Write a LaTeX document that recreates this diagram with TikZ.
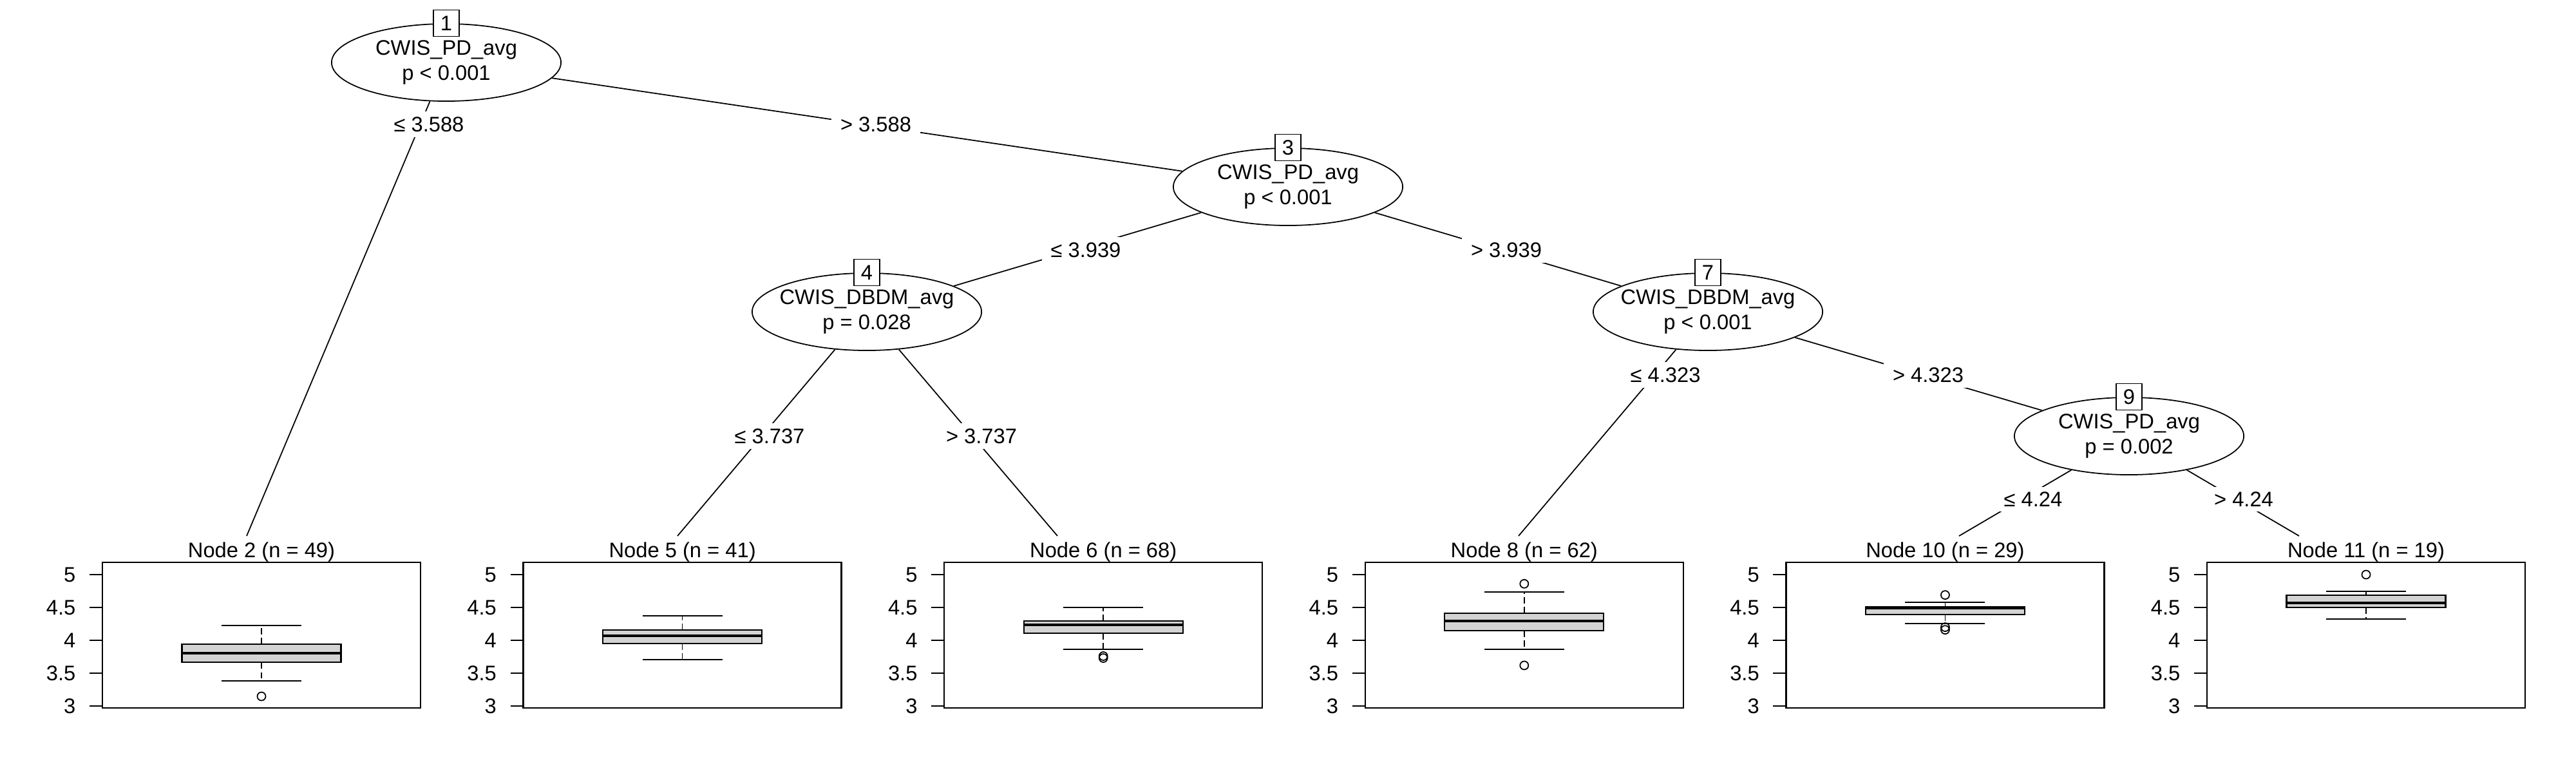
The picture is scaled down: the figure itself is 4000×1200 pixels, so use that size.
\documentclass[tikz,border=0pt]{standalone}
\usepackage{fontspec}
\setmainfont{Liberation Sans}
\usetikzlibrary{shapes.geometric,calc}
\definecolor{boxgray}{HTML}{D3D3D3}

\begin{document}
\begin{tikzpicture}[x=0.01cm,y=-0.01cm,
    every node/.style={font=\fontsize{9.3}{11.3}\selectfont},
    innernode/.style={draw,ellipse,line width=0.5pt,minimum width=3.56cm,minimum height=1.2cm,inner ysep=0pt,inner xsep=-1.5mm,align=center},
    idbox/.style={draw,fill=white,line width=0.5pt,minimum width=0.4cm,minimum height=0.41cm,inner sep=0pt},
    cutlbl/.style={fill=white,inner xsep=1.4mm,inner ysep=0.8mm},
    branch/.style={line width=0.5pt},
    frame/.style={line width=0.7pt},
    whisk/.style={line width=0.5pt,dash pattern=on 2.8pt off 1.5pt}]
    \useasboundingbox (0,0) rectangle (4000,1200);% whole page
    % inner nodes
    \node[innernode] (N1) at (693,97)   {CWIS\_PD\_avg\\p < 0.001};
    \node[innernode] (N3) at (2000,290) {CWIS\_PD\_avg\\p < 0.001};
    \node[innernode] (N4) at (1346,484) {CWIS\_DBDM\_avg\\p = 0.028};
    \node[innernode] (N7) at (2652,484) {CWIS\_DBDM\_avg\\p < 0.001};
    \node[innernode] (N9) at (3306,677) {CWIS\_PD\_avg\\p = 0.002};
    % ends of the branches above the terminal panels
    \coordinate (T2)  at (383,832);
    \coordinate (T5)  at (1052,832);
    \coordinate (T6)  at (1642,832);
    \coordinate (T8)  at (2358,832);
    \coordinate (T10) at (3042,832);
    \coordinate (T11) at (3570,832);
    \draw[branch] (N1) -- (T2);
    \draw[branch] (N1) -- (N3);
    \draw[branch] (N3) -- (N4);
    \draw[branch] (N3) -- (N7);
    \draw[branch] (N4) -- (T5);
    \draw[branch] (N4) -- (T6);
    \draw[branch] (N7) -- (T8);
    \draw[branch] (N7) -- (N9);
    \draw[branch] (N9) -- (T10);
    \draw[branch] (N9) -- (T11);
    % split labels
    \node[cutlbl] (S2)  at (666,193)  {≤ 3.588};
    \node[cutlbl] (S3)  at (1360,193) {> 3.588};
    \node[cutlbl] (S4)  at (1686,388) {≤ 3.939};
    \node[cutlbl] (S7)  at (2339,388) {> 3.939};
    \node[cutlbl] (S5)  at (1195,677) {≤ 3.737};
    \node[cutlbl] (S6)  at (1524,677) {> 3.737};
    \node[cutlbl] (S8)  at (2586,582) {≤ 4.323};
    \node[cutlbl] (S9)  at (2994,582) {> 4.323};
    \node[cutlbl] (S10) at (3157,775) {≤ 4.24};
    \node[cutlbl] (S11) at (3484,775) {> 4.24};
    % node ids
    \node[idbox] (B1) at (N1.north) {1};
    \node[idbox] (B3) at (N3.north) {3};
    \node[idbox] (B4) at (N4.north) {4};
    \node[idbox] (B7) at (N7.north) {7};
    \node[idbox] (B9) at (N9.north) {9};
    % terminal panels: index/title/lower whisker/Q1/median/Q3/upper whisker
    \foreach \i/\name/\lo/\qa/\md/\qb/\hi in {0/Node 2 (n = 49)/3.386/3.663/3.804/3.938/4.229,
        1/Node 5 (n = 41)/3.709/3.954/4.072/4.154/4.376,
        2/Node 6 (n = 68)/3.866/4.105/4.235/4.297/4.497,
        3/Node 8 (n = 62)/3.859/4.144/4.294/4.412/4.735,
        4/Node 10 (n = 29)/4.258/4.395/4.49/4.51/4.582,
        5/Node 11 (n = 19)/4.32/4.497/4.565/4.69/4.745}{%
      \pgfmathsetmacro\L{159+653.6*\i}% left side of the panel
      \pgfmathsetmacro\C{\L+247}
      \pgfmathsetmacro\ylo{892+(5-\lo)*102}
      \pgfmathsetmacro\yqa{892+(5-\qa)*102}
      \pgfmathsetmacro\ymd{892+(5-\md)*102}
      \pgfmathsetmacro\yqb{892+(5-\qb)*102}
      \pgfmathsetmacro\yhi{892+(5-\hi)*102}
      \node[anchor=base,inner sep=0pt] (P\i) at (\C,865) {\name};
      \draw[frame] (\L,873) rectangle ({\L+494},1099);
      \foreach \t [count=\k] in {3,3.5,4,4.5,5}{% y axis
        \draw[frame] ({\L-20},{892+(5-\t)*102}) -- (\L,{892+(5-\t)*102});
        \node[anchor=east,inner sep=0pt] (Y\i\k) at ({\L-41},{892+(5-\t)*102}) {\t};
      }
      \draw[whisk] (\C,\yqb) -- (\C,\yhi);
      \draw[whisk] (\C,\yqa) -- (\C,\ylo);
      \draw[line width=0.6pt] ({\C-62},\yhi) -- ({\C+62},\yhi);
      \draw[line width=0.6pt] ({\C-62},\ylo) -- ({\C+62},\ylo);
      \draw[line width=0.6pt,fill=boxgray] ({\C-123.5},\yqa) rectangle ({\C+123.5},\yqb);
      \draw[line width=1.2pt] ({\C-123.5},\ymd) -- ({\C+123.5},\ymd);% median
    }
    % outliers
    \foreach \i/\v in {0/3.147,2/3.76,2/3.73,3/4.86,3/3.618,4/4.69,4/4.2,4/4.16,5/5.0}{%
      \pgfmathsetmacro\C{159+653.6*\i+247}
      \draw[line width=0.5pt] (\C,{892+(5-\v)*102}) circle (0.065cm);
    }
\end{tikzpicture}
\end{document}
